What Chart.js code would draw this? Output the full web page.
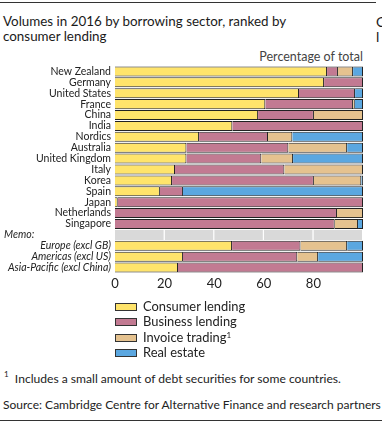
<!DOCTYPE html>
<html>
<head>
<meta charset="utf-8">
<script src="https://cdn.jsdelivr.net/npm/chart.js@4/dist/chart.umd.min.js"></script>
<style>
  html, body { margin: 0; padding: 0; background: #fff; }
  body { width: 382px; height: 426px; position: relative; overflow: hidden; font-family: "Lato", "Noto Sans", sans-serif; color: #222; }
  #wrap { position: absolute; left: 0; top: 0; width: 382px; height: 300px; }
  .abs { position: absolute; white-space: nowrap; }
  .rule { position: absolute; left: 0; height: 1px; background: #333; }
  #title { left: 3px; top: 14px; font-size: 13.4px; line-height: 15px; color: #1a1a1a; }
  #unit { right: 19px; top: 49px; font-size: 12.5px; color: #444; }
  .leg { left: 115px; font-size: 12.9px; line-height: 15px; }
  .sw { display: inline-block; width: 20px; height: 6px; border: 1px solid #333; vertical-align: middle; margin-right: 6px; position: relative; top: -1px; }
  sup { font-size: 8px; vertical-align: top; position: relative; top: -2px; }
  #foot { left: 4px; top: 371px; font-size: 12.1px; }
  #src { left: 3px; top: 397px; font-size: 12px; }
  .cut { left: 376px; font-size: 14px; color: #1a1a1a; }
</style>
</head>
<body>
<div class="rule" style="top:2px; width:376px;"></div>
<div id="title" class="abs">Volumes in 2016 by borrowing sector, ranked by<br>consumer lending</div>
<div class="abs cut" style="top:13px;">C</div>
<div class="abs cut" style="top:28px;">l</div>
<div id="unit" class="abs">Percentage of total</div>
<div id="wrap"><canvas id="c" width="382" height="300"></canvas></div>
<div id="legend"></div>
<div id="foot" class="abs"><sup style="font-size:8px;">1</sup>&nbsp; Includes a small amount of debt securities for some countries.</div>
<div id="src" class="abs">Source: Cambridge Centre for Alternative Finance and research partners</div>
<div class="rule" style="top:420px; width:382px;"></div>
<script>
// ---- data ----
const categories = ["New Zealand","Germany","United States","France","China","India","Nordics","Australia","United Kingdom","Italy","Korea","Spain","Japan","Netherlands","Singapore","Memo:","Europe (excl GB)","Americas (excl US)","Asia-Pacific (excl China)"];
const consumerLending = [85.5, 84.3, 74.2, 60.6, 57.7, 47.3, 33.9, 28.8, 28.8, 24.2, 23.0, 18.1, 1.1, 0, 0, null, 47.2, 27.4, 25.4];
const businessLending = [4.4, 15.7, 22.6, 35.4, 22.5, 52.7, 27.8, 41.1, 30.2, 44.1, 57.2, 9.3, 98.9, 89.5, 88.6, null, 27.6, 46.1, 74.6];
const invoiceTrading  = [6.1, 0, 0, 0.7, 19.8, 0, 9.8, 23.7, 12.8, 31.7, 19.1, 0, 0, 10.5, 9.4, null, 18.8, 8.4, 0];
const realEstate      = [4.0, 0, 3.2, 3.3, 0, 0, 28.5, 6.4, 28.2, 0, 0.7, 72.6, 0, 0, 2.0, null, 6.4, 18.1, 0];
const memoBand = [20, 20, 20, 20, 20];
const xTicks = [0, 20, 40, 60, 80];
const seriesNames = ["Consumer lending", "Business lending", "Invoice trading", "Real estate"];
const colors = ["#FFE46B", "#C27A92", "#E5C28F", "#5BA7E0"];
const memoIndex = categories.indexOf("Memo:");

const FONT = '"Lato", "Noto Sans", sans-serif';
const seriesData = [consumerLending, businessLending, invoiceTrading, realEstate];

const datasets = seriesData.map((d, i) => ({
  label: seriesNames[i],
  data: d,
  backgroundColor: colors[i],
  borderColor: "#222",
  borderWidth: 1,
  barPercentage: 0.92,
  categoryPercentage: 1,
  stack: "s"
}));
memoBand.forEach((v, k) => {
  datasets.push({
    label: "memo" + k,
    data: categories.map((c, i) => i === memoIndex ? v : null),
    backgroundColor: "#D9D9D9",
    borderColor: "#fff",
    borderWidth: { left: 0, right: 1, top: 0, bottom: 0 },
    borderSkipped: false,
    barPercentage: 0.92,
    categoryPercentage: 1,
    stack: "s"
  });
});

const memoLabel = {
  id: "memoLabel",
  afterDraw(chart) {
    const y = chart.scales.y.getPixelForValue(memoIndex);
    const ctx = chart.ctx;
    ctx.save();
    ctx.font = "italic 10.5px " + FONT;
    ctx.fillStyle = "#222";
    ctx.textBaseline = "middle";
    ctx.textAlign = "left";
    ctx.fillText(categories[memoIndex], 4, y);
    ctx.restore();
  }
};

new Chart(document.getElementById("c"), {
  type: "bar",
  data: { labels: categories, datasets },
  options: {
    indexAxis: "y",
    responsive: false,
    animation: false,
    devicePixelRatio: 1,
    layout: { padding: { top: 66, right: 19, bottom: 9, left: 0 } },
    plugins: { legend: { display: false }, tooltip: { enabled: false } },
    scales: {
      x: {
        stacked: true, min: 0, max: 100,
        grid: { display: false, drawTicks: false }, border: { display: false },
        afterBuildTicks(scale) { scale.ticks = xTicks.map(v => ({ value: v })); },
        ticks: { color: "#222", padding: 3, font: { family: FONT, size: 13 } },
        afterFit(scale) { scale.height = 18; }
      },
      y: {
        stacked: true,
        grid: { display: false, drawTicks: false }, border: { display: false },
        ticks: {
          color: "#222", padding: 4, autoSkip: false,
          callback: (v, i) => i === memoIndex ? "" : categories[i],
          font: (ctx) => ({ family: FONT, size: 10.5, style: ctx.index > memoIndex ? "italic" : "normal" })
        },
        afterFit(scale) { scale.width = 115; }
      }
    }
  },
  plugins: [memoLabel]
});

// HTML legend
const legend = document.getElementById("legend");
const tops = [299, 314, 330, 345];
seriesNames.forEach((n, i) => {
  const d = document.createElement("div");
  d.className = "abs leg";
  d.style.top = tops[i] + "px";
  d.innerHTML = '<span class="sw" style="background:' + colors[i] + '"></span>' + n + (i === 2 ? "<sup>1</sup>" : "");
  legend.appendChild(d);
});
</script>
</body>
</html>
